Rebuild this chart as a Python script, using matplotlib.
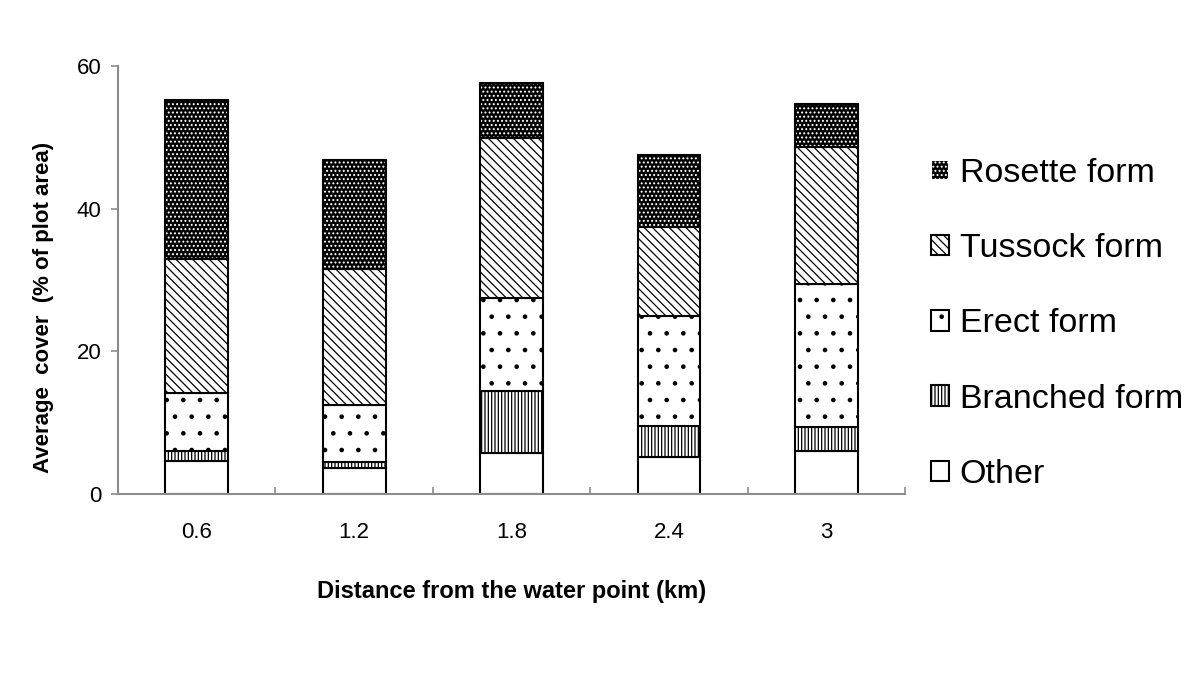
import matplotlib
matplotlib.use('Agg')
import matplotlib.pyplot as plt
from matplotlib.patches import Patch
import numpy as np

plt.rcParams['font.family'] = ['Liberation Sans', 'DejaVu Sans']
plt.rcParams['hatch.linewidth'] = 0.9

distances = ['0.6', '1.2', '1.8', '2.4', '3']
other = [4.6, 3.7, 5.8, 5.2, 6.0]
branched = [1.4, 0.8, 8.7, 4.4, 3.4]
erect = [8.2, 8.0, 13.0, 15.4, 20.1]
tussock = [18.8, 19.1, 22.4, 12.4, 19.1]
rosette = [22.2, 15.2, 7.7, 10.2, 6.1]

series = [
    ('Other', other, dict(facecolor='white', edgecolor='black', hatch='')),
    ('Branched form', branched, dict(facecolor='white', edgecolor='black', hatch='|||||')),
    ('Erect form', erect, dict(facecolor='white', edgecolor='black', hatch='.')),
    ('Tussock form', tussock, dict(facecolor='white', edgecolor='black', hatch='\\\\\\\\')),
    ('Rosette form', rosette, dict(facecolor='black', edgecolor='white', hatch='....')),
]

fig = plt.figure(figsize=(12, 6.75), dpi=100)
ax = fig.add_axes([0.0983, 0.268, 0.656, 0.634])

x = np.arange(len(distances))
width = 0.4
bottom = np.zeros(len(distances))
handles = []
for name, vals, style in series:
    # fill + hatch first, then a black outline on top
    ax.bar(x, vals, width, bottom=bottom, linewidth=0, **style)
    ax.bar(x, vals, width, bottom=bottom, fill=False, edgecolor='black', linewidth=1.5)
    handles.append(Patch(label=name, linewidth=1.5, **style))
    bottom += np.array(vals)

ax.set_xlim(-0.5, len(distances) - 0.5)
ax.set_ylim(0, 60)
ax.set_yticks([0, 20, 40, 60])
ax.set_xticks(x)
ax.set_xticklabels(distances)
ax.set_xticks(np.arange(-0.5, len(distances), 1.0), minor=True)

for side in ['top', 'right']:
    ax.spines[side].set_visible(False)
for side in ['left', 'bottom']:
    ax.spines[side].set_color('#8c8c8c')
    ax.spines[side].set_linewidth(1.5)

ax.tick_params(axis='y', direction='out', length=5, color='#8c8c8c', width=1.2,
               labelsize=16, pad=7)
ax.tick_params(axis='x', which='major', length=0, labelsize=16, pad=20)
ax.tick_params(axis='x', which='minor', direction='in', length=5, color='#8c8c8c', width=1.2)

ax.set_xlabel('Distance from the water point (km)', fontsize=17, fontweight='bold', labelpad=27)
ax.set_ylabel('Average  cover  (% of plot area)', fontsize=16, fontweight='bold')
ax.yaxis.set_label_coords(-0.081, 0.437)

fig.legend(handles=handles[::-1], loc='center left', bbox_to_anchor=(0.750, 0.52),
           frameon=False, fontsize=24.5, handlelength=0.55, handleheight=0.55,
           handletextpad=0.3, labelspacing=1.3)

fig.savefig('out.png', dpi=100)
